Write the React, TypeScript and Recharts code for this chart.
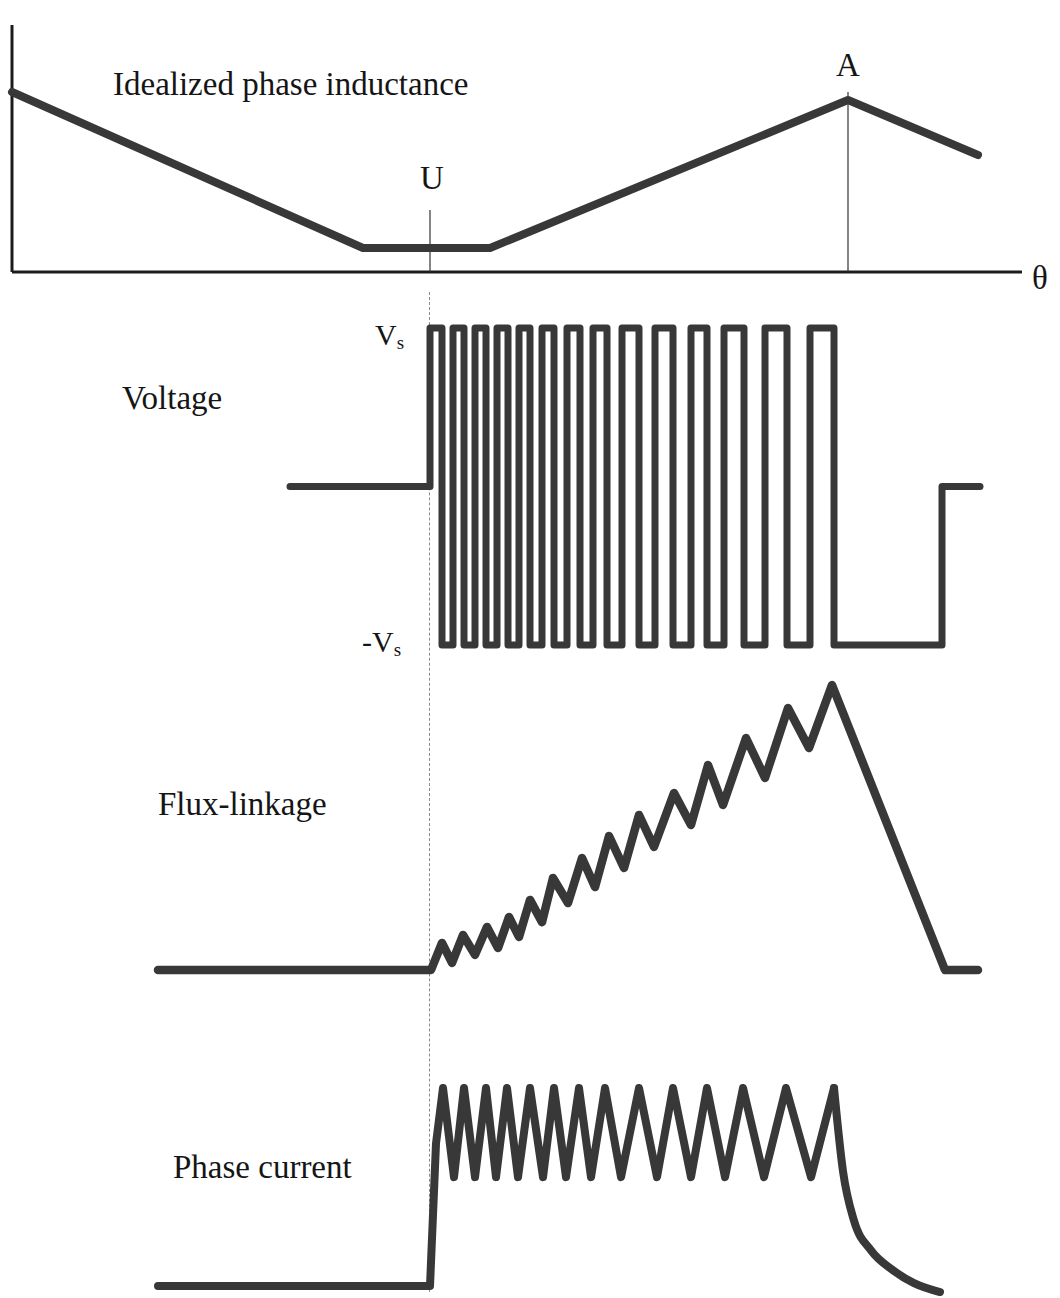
import { Line, LineChart, ReferenceLine, XAxis, YAxis } from "recharts";

// shared horizontal axis: rotor position θ (same units in every panel)
const THETA_DOMAIN: [number, number] = [0, 1060];

// idealized phase inductance
const inductanceTheta = [12, 363, 490, 848, 978];
const inductanceValues = [180, 24, 24, 172, 117];

// PWM voltage: switching instants and level (+1 = Vs, -1 = -Vs)
const voltageTheta = [
  290, 430, 442, 453, 464, 475, 486, 497, 508, 519, 530, 542, 554, 567, 580, 593, 607, 622, 639, 655, 673,
  691, 707, 724, 744, 765, 787, 810, 834, 942, 980,
];
const voltageLevels = [
  0, 1, -1, 1, -1, 1, -1, 1, -1, 1, -1, 1, -1, 1, -1, 1, -1, 1, -1, 1, -1, 1, -1, 1, -1, 1, -1, 1, -1, 0, 0,
];

// flux-linkage
const fluxTheta = [
  158, 431, 442, 452, 463, 475, 487, 498, 509, 519, 530, 542, 553, 568, 582, 595, 609, 624, 639, 654, 674,
  691, 708, 723, 746, 765, 788, 809, 832, 945, 978,
];
const fluxValues = [
  0, 0, 9.5, 2.5, 12.3, 5.3, 15.1, 7.7, 18.6, 11.6, 24.6, 16.8, 32.3, 23.5, 39.3, 29.1, 47, 35.8, 54.4, 43.2,
  62.1, 50.9, 71.9, 57.9, 81.4, 67.4, 91.9, 77.9, 100, 0, 0,
];

// phase current (chopped) and its decay after turn-off
const currentTheta = [
  158, 430, 436, 443, 454, 464, 475, 486, 496, 507, 518, 530, 543, 554, 566, 579, 591, 605, 621, 639, 657,
  673, 691, 707, 725, 743, 764, 786, 811, 834,
];
const currentValues = [
  0, 0, 72, 100, 55, 100, 55, 100, 55, 100, 55, 100, 55, 100, 55, 100, 55, 100, 55, 100, 55, 100, 55, 100,
  55, 100, 55, 100, 55, 100,
];
const tailTheta = [834, 843, 854, 871, 893, 914, 940];
const tailValues = [100, 58, 33, 18, 8, 1.5, -3];

const INK = "#383838";
const AXIS = "#1c1c1c";
const SERIF = "'Liberation Serif', 'Times New Roman', serif";

const zip = (xs: number[], ys: number[]) => xs.map((theta, i) => ({ theta, v: ys[i] }));

const inductanceData = zip(inductanceTheta, inductanceValues);
const voltageData = zip(voltageTheta, voltageLevels);
const fluxData = zip(fluxTheta, fluxValues);
const currentData = zip(currentTheta, currentValues);
const tailData = zip(tailTheta, tailValues);

function Txt({ x, y, size = 33, children }: { x: number; y: number; size?: number; children: any }) {
  return (
    <div
      style={{
        position: "absolute",
        left: x,
        top: y,
        fontFamily: SERIF,
        fontSize: size,
        lineHeight: 1,
        color: "#151515",
        whiteSpace: "nowrap",
      }}
    >
      {children}
    </div>
  );
}

function Panel({
  top,
  height,
  margin,
  domain,
  data,
  children,
}: {
  top: number;
  height: number;
  margin: { top: number; bottom: number };
  domain: [number, number];
  data: any[];
  children: any;
}) {
  return (
    <div style={{ position: "absolute", left: 0, top }}>
      <LineChart width={1060} height={height} data={data} margin={{ top: margin.top, bottom: margin.bottom, left: 0, right: 0 }}>
        <XAxis type="number" dataKey="theta" domain={THETA_DOMAIN} hide />
        <YAxis type="number" domain={domain} hide />
        {children}
      </LineChart>
    </div>
  );
}

export default function App() {
  const lineProps = {
    dataKey: "v",
    stroke: INK,
    dot: false,
    isAnimationActive: false,
    strokeLinejoin: "round" as const,
    strokeLinecap: "round" as const,
  };

  return (
    <div style={{ position: "absolute", left: 0, top: 0, width: 1060, height: 1298, background: "#fff", overflow: "hidden" }}>
      {/* U position carried down through the lower panels */}
      <div style={{ position: "absolute", left: 429, top: 292, height: 1000, borderLeft: "1.5px dashed #8a8a8a" }} />

      <Panel top={0} height={290} margin={{ top: 25, bottom: 18 }} domain={[0, 247]} data={inductanceData}>
        <ReferenceLine segment={[{ x: 12, y: 0 }, { x: 1022, y: 0 }]} stroke={AXIS} strokeWidth={3} />
        <ReferenceLine segment={[{ x: 12, y: 0 }, { x: 12, y: 247 }]} stroke={AXIS} strokeWidth={3} />
        <ReferenceLine segment={[{ x: 430, y: 0 }, { x: 430, y: 62 }]} stroke="#333" strokeWidth={1.2} />
        <ReferenceLine segment={[{ x: 848, y: 0 }, { x: 848, y: 180 }]} stroke="#333" strokeWidth={1.2} />
        <Line type="linear" {...lineProps} strokeWidth={8} />
      </Panel>

      <Panel top={300} height={380} margin={{ top: 28, bottom: 35 }} domain={[-1, 1]} data={voltageData}>
        <Line type="stepAfter" {...lineProps} strokeWidth={7} />
      </Panel>

      <Panel top={660} height={330} margin={{ top: 25, bottom: 20 }} domain={[0, 100]} data={fluxData}>
        <Line type="linear" {...lineProps} strokeWidth={8.5} />
      </Panel>

      <Panel top={1060} height={238} margin={{ top: 28, bottom: 2 }} domain={[-5, 100]} data={currentData}>
        <Line type="linear" {...lineProps} strokeWidth={8} />
        <Line type="monotone" {...lineProps} data={tailData} strokeWidth={8} />
      </Panel>

      <Txt x={113} y={68}>Idealized phase inductance</Txt>
      <Txt x={836} y={49}>A</Txt>
      <Txt x={420} y={162}>U</Txt>
      <Txt x={1032} y={262}>θ</Txt>

      <Txt x={375} y={320} size={30}>
        V<span style={{ fontSize: 19, position: "relative", top: 4 }}>s</span>
      </Txt>
      <Txt x={362} y={627} size={30}>
        -V<span style={{ fontSize: 19, position: "relative", top: 4 }}>s</span>
      </Txt>

      <Txt x={122} y={382}>Voltage</Txt>
      <Txt x={158} y={788}>Flux-linkage</Txt>
      <Txt x={173} y={1151}>Phase current</Txt>
    </div>
  );
}
